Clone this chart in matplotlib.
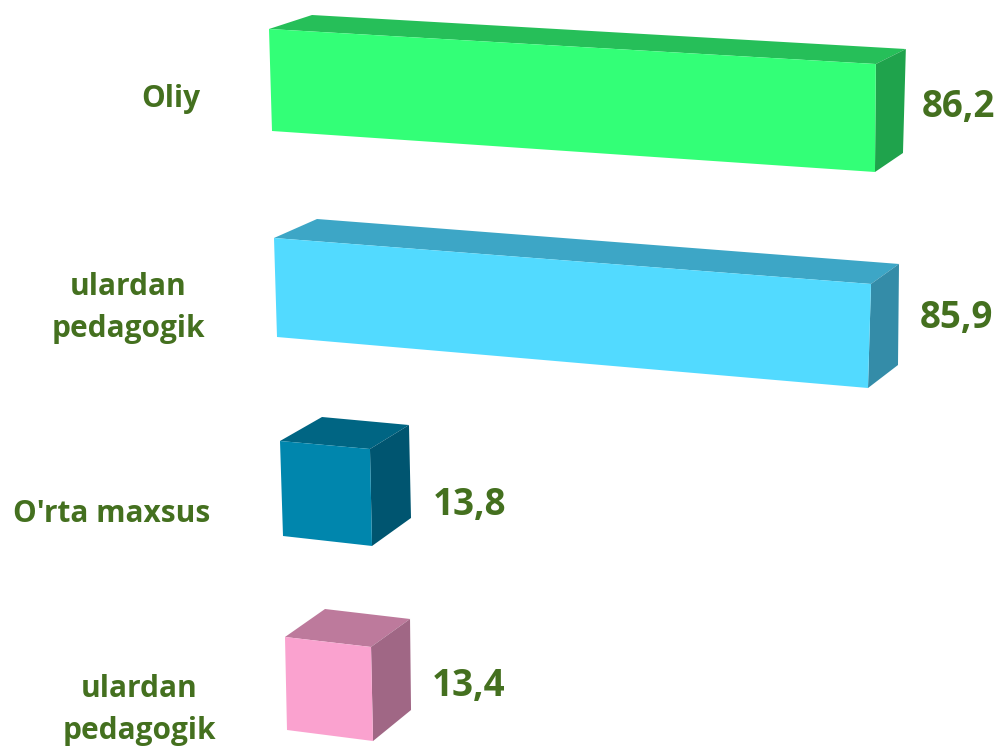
import matplotlib
matplotlib.use("Agg")
import matplotlib.pyplot as plt
from matplotlib.patches import Polygon

categories = ["Oliy", "ulardan\npedagogik", "O'rta maxsus", "ulardan\npedagogik"]
values = [86.2, 85.9, 13.8, 13.4]
value_labels = ["86,2", "85,9", "13,8", "13,4"]

front_colors = ["#33FF77", "#52DAFF", "#0086AD", "#FAA2CF"]
top_colors = ["#26BF59", "#3DA6C6", "#006583", "#BD7A9C"]
side_colors = ["#1FA34C", "#348CA8", "#005570", "#A06785"]
TEXT = "#44701F"

# layout of each bar in pixels
left_top = [(269, 29), (274, 238), (280, 441), (285, 637)]
left_bot = [(272, 131), (277, 337), (283, 536), (287, 730)]
scale_top = [7.04, 6.95, 6.52, 6.42]
scale_bot = [6.995, 6.88, 6.45, 6.42]
slope_top = [0.0577, 0.077, 0.089, 0.116]
slope_bot = [0.068, 0.0863, 0.112, 0.128]
depth_left = [(43, -14), (43, -19), (42, -24), (40, -28)]
depth_top_right = [(30, -15), (28, -20), (39, -24), (39, -28)]
depth_bot_right = [(28, -19), (30, -23), (39, -28), (38, -31)]
cat_x = [171, 128, 112, 139]
cat_base = [107, 295, 522, 697]
cat_gap = 42.5
val_x = [958, 956, 470, 469]
val_base = [117, 328, 515, 696]

fig = plt.figure(figsize=(9.99, 7.49), dpi=100)
ax = fig.add_axes([0, 0, 1, 1])
ax.set_xlim(0, 999)
ax.set_ylim(749, 0)
ax.axis("off")

for i, v in enumerate(values):
    wt, wb = v * scale_top[i], v * scale_bot[i]
    tl, bl = left_top[i], left_bot[i]
    tr = (tl[0] + wt, tl[1] + wt * slope_top[i])
    br = (bl[0] + wb, bl[1] + wb * slope_bot[i])
    tl_b = (tl[0] + depth_left[i][0], tl[1] + depth_left[i][1])
    tr_b = (tr[0] + depth_top_right[i][0], tr[1] + depth_top_right[i][1])
    br_b = (br[0] + depth_bot_right[i][0], br[1] + depth_bot_right[i][1])
    ax.add_patch(Polygon([tl, tl_b, tr_b, tr], fc=top_colors[i], ec="none"))
    ax.add_patch(Polygon([tr, tr_b, br_b, br], fc=side_colors[i], ec="none"))
    ax.add_patch(Polygon([tl, tr, br, bl], fc=front_colors[i], ec="none"))

for i, c in enumerate(categories):
    for k, line in enumerate(c.split("\n")):
        ax.text(cat_x[i], cat_base[i] + k * cat_gap, line, ha="center", va="baseline",
                family="Open Sans", weight="bold", fontsize=21.5, color=TEXT)
for i, t in enumerate(value_labels):
    ax.text(val_x[i], val_base[i], t, ha="center", va="baseline", family="Open Sans",
            weight="bold", fontsize=26.5, color=TEXT)

fig.savefig("out.png", dpi=100)
